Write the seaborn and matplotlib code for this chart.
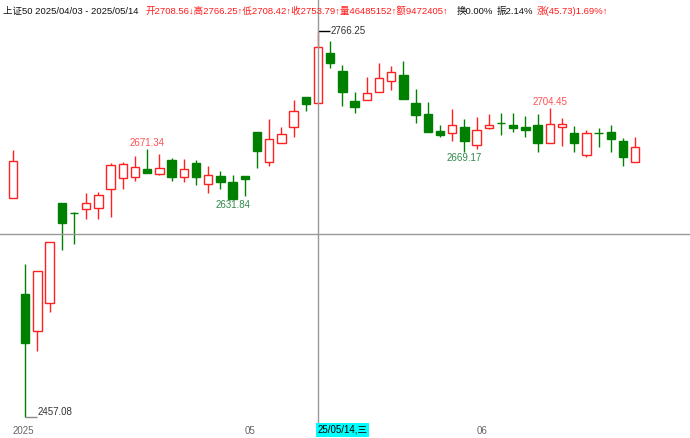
"""
K-line chart for SSE 50 (上证50), Apr - Jun 2025
"""

import pandas as pd
import matplotlib
matplotlib.use("Agg")
import matplotlib.pyplot as plt
import seaborn as sns

# trading days (weekdays minus exchange holidays)
holidays = ["2025-04-04", "2025-05-01", "2025-05-02", "2025-05-05", "2025-06-02"]
dates = [d for d in pd.bdate_range("2025-04-03", "2025-06-20")
         if d.strftime("%Y-%m-%d") not in holidays]

opens = [2632.0, 2555.3, 2525.7, 2548.1, 2628.3, 2620.3, 2623.5, 2624.3, 2639.5, 2648.4,
         2649.2, 2655.6, 2651.6, 2662.8, 2649.2, 2660.4, 2643.5, 2650.0, 2645.1, 2650.0,
         2685.3, 2661.2, 2676.4, 2689.3, 2713.3, 2708.56, 2748.6, 2734.2, 2710.1, 2710.9,
         2717.3, 2726.2, 2730.9, 2708.5, 2699.7, 2686.1, 2684.5, 2689.3, 2674.8, 2688.5,
         2692.5, 2690.9, 2689.3, 2690.9, 2676.4, 2689.3, 2684.5, 2666.8, 2684.5, 2685.3,
         2678.0, 2661.2]
highs = [2670.5, 2579.5, 2573.8, 2597.0, 2628.3, 2621.0, 2636.3, 2637.1, 2660.4, 2661.2,
         2666.0, 2671.34, 2667.6, 2664.4, 2663.6, 2662.8, 2658.0, 2654.0, 2650.8, 2650.0,
         2685.3, 2695.7, 2689.3, 2710.9, 2713.3, 2766.25, 2758.2, 2739.0, 2717.3, 2729.3,
         2740.6, 2738.2, 2742.2, 2719.7, 2709.3, 2690.9, 2703.9, 2695.7, 2697.3, 2699.7,
         2700.5, 2700.5, 2698.1, 2699.7, 2704.45, 2696.5, 2690.1, 2686.9, 2688.5, 2690.9,
         2680.4, 2681.2]
lows = [2632.0, 2457.08, 2509.6, 2540.9, 2590.6, 2595.4, 2615.5, 2615.5, 2617.1, 2639.5,
        2645.9, 2652.4, 2650.8, 2645.9, 2645.1, 2642.7, 2636.3, 2639.5, 2631.84, 2633.9,
        2656.4, 2658.0, 2676.4, 2681.2, 2702.1, 2708.42, 2736.6, 2706.1, 2700.5, 2710.9,
        2717.3, 2718.9, 2711.7, 2692.5, 2685.3, 2681.2, 2678.0, 2669.17, 2671.6, 2687.7,
        2682.8, 2685.3, 2681.2, 2669.5, 2676.4, 2674.0, 2669.6, 2665.2, 2673.2, 2669.4,
        2658.0, 2661.2]
closes = [2662.0, 2516.0, 2573.8, 2597.0, 2612.3, 2620.0, 2628.3, 2634.7, 2658.8, 2659.6,
          2657.2, 2652.4, 2656.4, 2649.2, 2655.6, 2649.2, 2650.8, 2645.1, 2631.84, 2647.6,
          2670.0, 2679.6, 2683.6, 2702.1, 2708.06, 2753.79, 2740.6, 2717.3, 2705.3, 2716.5,
          2728.5, 2733.4, 2711.7, 2698.9, 2685.3, 2682.8, 2690.9, 2678.0, 2686.9, 2690.9,
          2692.3, 2688.5, 2686.9, 2676.4, 2691.7, 2691.7, 2676.4, 2684.5, 2684.3, 2679.6,
          2665.2, 2673.2]

# marked extremes: (candle index, "high"/"low")
marks = [(11, "high"), (18, "low"), (37, "low"), (44, "high")]
cursor_idx = 25
cursor_price = 2603.2

header = [
    ("上证50 2025/04/03 - 2025/05/14", "#111111", 2),
    ("开2708.56↓高2766.25↑低2708.42↑收2753.79↑量46485152↑额9472405↑", "#ff1a1a", 145),
    ("换0.00%", "#111111", 457),
    ("振2.14%", "#111111", 494),
    ("涨(45.73)1.69%↑", "#ff1a1a", 537),
]

df = pd.DataFrame({"date": dates, "open": opens, "high": highs,
                   "low": lows, "close": closes})
df["x"] = range(len(df))
df["up"] = df["close"] >= df["open"]

sns.set_style("white")
plt.rcParams["font.family"] = ["Liberation Sans", "Noto Sans CJK SC", "DejaVu Sans"]

W, H = 690, 438
fig = plt.figure(figsize=(W / 100, H / 100), dpi=100)
ax = fig.add_axes([0, 13 / H, 1, 425 / H])
for s in ax.spines.values():
    s.set_visible(False)

red, green = "#ff2020", "#008000"
colors = [red if u else green for u in df["up"]]

# wicks
ax.vlines(df["x"], df["low"], df["high"], colors=colors, lw=1, zorder=1)
# bodies
body_lo = df[["open", "close"]].min(axis=1)
body_h = (df["close"] - df["open"]).abs().clip(lower=0.3)
ax.bar(df["x"], body_h, bottom=body_lo, width=0.68,
       facecolor=["white" if u else green for u in df["up"]],
       edgecolor=colors, lw=1, zorder=2)

ax.set_xlim(-1.066, 55.49)
ax.set_ylim(2450.27, 2791.11)
ax.set_yticks([])

# month ticks
tick_pos, tick_lab = [0], [str(dates[0].year)]
for i in range(1, len(dates)):
    if dates[i].month != dates[i - 1].month:
        tick_pos.append(i)
        tick_lab.append(dates[i].strftime("%m"))
ax.set_xticks(tick_pos, tick_lab)
ax.tick_params(axis="x", length=0, pad=1, labelsize=7, labelcolor="#666666")
for t in ax.get_xticklabels():
    t.set_ha("left")

# extremes
imax = int(df["high"].idxmax())
imin = int(df["low"].idxmin())
ax.hlines(highs[imax], imax, imax + 1, color="black", lw=1, zorder=3)
ax.text(imax + 1.05, highs[imax], f"{highs[imax]:.2f}", fontsize=7,
        color="#333333", va="center", ha="left")
ax.hlines(lows[imin], imin, imin + 1, color="#888888", lw=1, zorder=3)
ax.text(imin + 1.05, lows[imin], f"{lows[imin]:.2f}", fontsize=7,
        color="#333333", va="bottom", ha="left")

for i, kind in marks:
    if kind == "high":
        ax.annotate(f"{highs[i]:.2f}", (i, highs[i]), xytext=(0, 1),
                    textcoords="offset points", ha="center", va="bottom",
                    fontsize=7, color="#ff5050")
    else:
        ax.annotate(f"{lows[i]:.2f}", (i, lows[i]), xytext=(0, -1),
                    textcoords="offset points", ha="center", va="top",
                    fontsize=7, color="#2f8a4a")

# crosshair
ax.axvline(cursor_idx, color="#999999", lw=1, zorder=5)
ax.axhline(cursor_price, color="#999999", lw=1, zorder=5)
wd = "一二三四五六日"[dates[cursor_idx].weekday()]
ax.text(cursor_idx - 0.05, 2450.27, dates[cursor_idx].strftime("%y/%m/%d,") + wd,
        fontsize=7, color="black", ha="left", va="top", clip_on=False,
        bbox=dict(facecolor="#00ffff", edgecolor="none", pad=1.2), zorder=6)

# header line: each piece at its place, pushed right if the previous one runs long
renderer = fig.canvas.get_renderer()
end = 0
for txt, col, px in header:
    x0 = max(px, end + 3)
    t = fig.text(x0 / W, 1 - 11 / H, txt, fontsize=6.8, color=col,
                 ha="left", va="center")
    end = t.get_window_extent(renderer).x1

fig.savefig("out.png", dpi=100)
